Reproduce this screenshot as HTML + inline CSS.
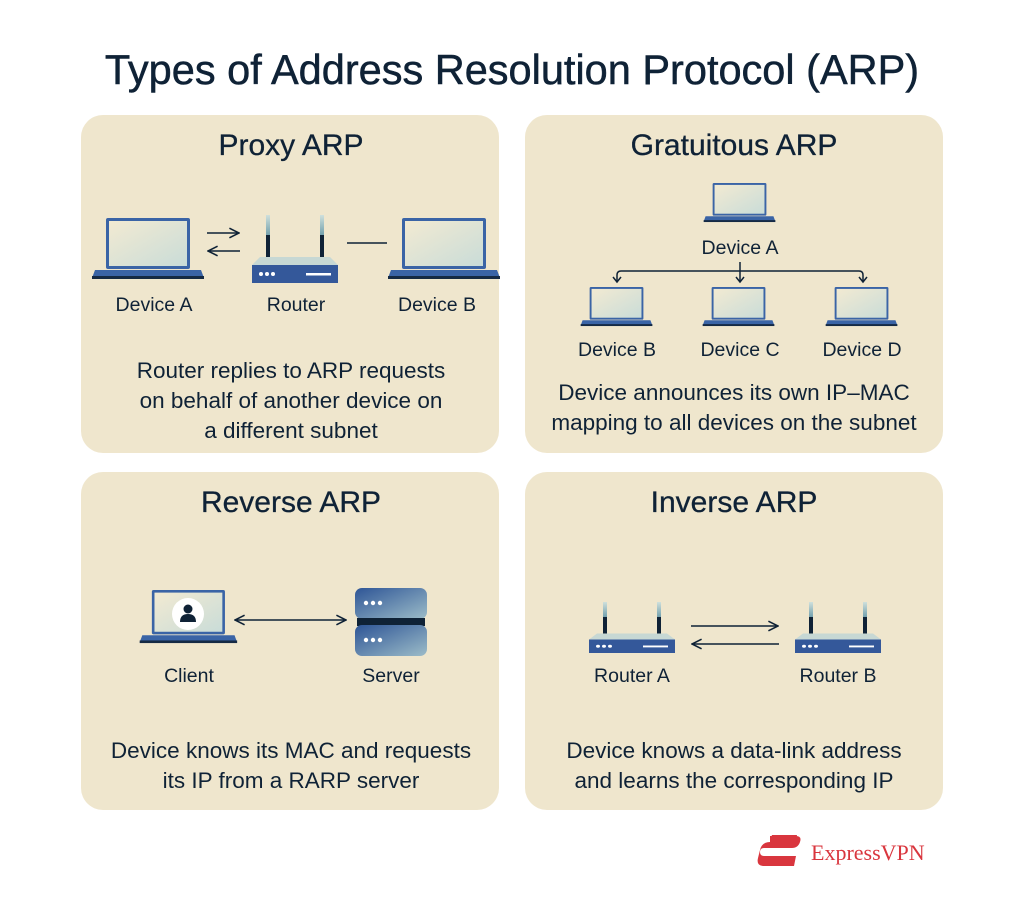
<!DOCTYPE html>
<html><head><meta charset="utf-8"><style>
html,body{margin:0;padding:0;background:#fff}
svg{display:block}
text{font-family:"Liberation Sans",sans-serif;fill:#0f2236}
</style></head><body>
<svg width="1024" height="898" viewBox="0 0 1024 898" xmlns="http://www.w3.org/2000/svg">
<defs>
<linearGradient id="scr" x1="0" y1="0" x2="1" y2="1"><stop offset="0" stop-color="#f2ead2"/><stop offset="1" stop-color="#c9dcd8"/></linearGradient>
<linearGradient id="blu" x1="0" y1="0" x2="1" y2="1"><stop offset="0" stop-color="#2e5596"/><stop offset="1" stop-color="#9cbcc8"/></linearGradient>
<linearGradient id="ant" x1="0" y1="0" x2="0" y2="1"><stop offset="0" stop-color="#cfe0dc"/><stop offset="1" stop-color="#6a9aa8"/></linearGradient>
<g id="lap">
<rect x="1" y="0" width="84" height="51" rx="2" fill="#3a64a6"/>
<rect x="4" y="3" width="78" height="45" fill="url(#scr)"/>
<path d="M-10 52 H96 L99 60 H-13 Z" fill="#3a64a6"/>
<rect x="-13" y="58" width="112" height="3" fill="#152a44"/>
</g>
<g id="rtr">
<rect x="14" y="0" width="4" height="22" fill="url(#ant)"/>
<rect x="14" y="20" width="4" height="22" fill="#0f2236"/>
<rect x="68" y="0" width="4" height="22" fill="url(#ant)"/>
<rect x="68" y="20" width="4" height="22" fill="#0f2236"/>
<path d="M8 42 H78 L86 50 H0 Z" fill="#c7d8d4"/>
<rect x="0" y="50" width="86" height="18" fill="#34589a"/>
<circle cx="9" cy="59" r="2" fill="#fff"/><circle cx="15" cy="59" r="2" fill="#fff"/><circle cx="21" cy="59" r="2" fill="#fff"/>
<rect x="54" y="58" width="25" height="2.5" fill="#fff"/>
</g>
<marker id="ah" viewBox="0 0 10 10" refX="9" refY="5" markerWidth="8" markerHeight="8" orient="auto-start-reverse"><path d="M1 1 L9 5 L1 9" fill="none" stroke="#0f2236" stroke-width="1.3"/></marker>
</defs>

<text x="512" y="84" text-anchor="middle" font-size="41.5" stroke="#0f2236" stroke-width="0.5">Types of Address Resolution Protocol (ARP)</text>

<rect x="81" y="115" width="418" height="338" rx="22" fill="#efe6cd"/>
<rect x="525" y="115" width="418" height="338" rx="22" fill="#efe6cd"/>
<rect x="81" y="472" width="418" height="338" rx="22" fill="#efe6cd"/>
<rect x="525" y="472" width="418" height="338" rx="22" fill="#efe6cd"/>

<g stroke="#0f2236" stroke-width="0.3">
<text x="291" y="155" text-anchor="middle" font-size="30">Proxy ARP</text>
<text x="734" y="155" text-anchor="middle" font-size="30">Gratuitous ARP</text>
<text x="291" y="512" text-anchor="middle" font-size="30">Reverse ARP</text>
<text x="734" y="512" text-anchor="middle" font-size="30">Inverse ARP</text>
</g>

<!-- Proxy -->
<use href="#lap" transform="translate(105,218)"/>
<use href="#lap" transform="translate(401,218)"/>
<use href="#rtr" transform="translate(252,215)"/>
<path d="M207 233 H239" stroke="#0f2236" stroke-width="1.5" marker-end="url(#ah)"/>
<path d="M240 251 H208" stroke="#0f2236" stroke-width="1.5" marker-end="url(#ah)"/>
<path d="M347 243 H387" stroke="#0f2236" stroke-width="1.5"/>
<text x="154" y="311" text-anchor="middle" font-size="19.5">Device A</text>
<text x="296" y="311" text-anchor="middle" font-size="19.5">Router</text>
<text x="437" y="311" text-anchor="middle" font-size="19.5">Device B</text>
<text x="291" y="378" text-anchor="middle" font-size="22.5">Router replies to ARP requests</text>
<text x="291" y="408" text-anchor="middle" font-size="22.5">on behalf of another device on</text>
<text x="291" y="438" text-anchor="middle" font-size="22.5">a different subnet</text>

<!-- Gratuitous -->
<use href="#lap" transform="translate(712,183) scale(0.64)"/>
<use href="#lap" transform="translate(589,287) scale(0.64)"/>
<use href="#lap" transform="translate(711,287) scale(0.64)"/>
<use href="#lap" transform="translate(834,287) scale(0.64)"/>
<text x="740" y="254" text-anchor="middle" font-size="19.5">Device A</text>
<path d="M617 281 V275 Q617 271 621 271 H859 Q863 271 863 275 V281" fill="none" stroke="#0f2236" stroke-width="1.5"/>
<path d="M740 262 V281" stroke="#0f2236" stroke-width="1.5"/>
<path d="M613 277 L617 282 L621 277 M736 277 L740 282 L744 277 M859 277 L863 282 L867 277" fill="none" stroke="#0f2236" stroke-width="1.5"/>
<text x="617" y="356" text-anchor="middle" font-size="19.5">Device B</text>
<text x="740" y="356" text-anchor="middle" font-size="19.5">Device C</text>
<text x="862" y="356" text-anchor="middle" font-size="19.5">Device D</text>
<text x="734" y="400" text-anchor="middle" font-size="22.5">Device announces its own IP–MAC</text>
<text x="734" y="430" text-anchor="middle" font-size="22.5">mapping to all devices on the subnet</text>

<!-- Reverse -->
<use href="#lap" transform="translate(151,590) scale(0.87)"/>
<circle cx="188" cy="614" r="16" fill="#fff"/>
<circle cx="188" cy="609" r="4.5" fill="#0f2236"/>
<path d="M180 622 Q180 614 188 614 Q196 614 196 622 Z" fill="#0f2236"/>
<path d="M235 620 H346" stroke="#0f2236" stroke-width="1.5" marker-start="url(#ah)" marker-end="url(#ah)"/>
<rect x="355" y="588" width="72" height="31" rx="7" fill="url(#blu)"/>
<rect x="357" y="618" width="68" height="8" fill="#0f2236"/>
<rect x="355" y="625" width="72" height="31" rx="7" fill="url(#blu)"/>
<circle cx="366" cy="603" r="2.2" fill="#fff"/><circle cx="373" cy="603" r="2.2" fill="#fff"/><circle cx="380" cy="603" r="2.2" fill="#fff"/>
<circle cx="366" cy="640" r="2.2" fill="#fff"/><circle cx="373" cy="640" r="2.2" fill="#fff"/><circle cx="380" cy="640" r="2.2" fill="#fff"/>
<text x="189" y="682" text-anchor="middle" font-size="19.5">Client</text>
<text x="391" y="682" text-anchor="middle" font-size="19.5">Server</text>
<text x="291" y="758" text-anchor="middle" font-size="22.5">Device knows its MAC and requests</text>
<text x="291" y="788" text-anchor="middle" font-size="22.5">its IP from a RARP server</text>

<!-- Inverse -->
<g transform="translate(589,602) scale(1,0.75)"><use href="#rtr"/></g>
<g transform="translate(795,602) scale(1,0.75)"><use href="#rtr"/></g>
<path d="M691 626 H778" stroke="#0f2236" stroke-width="1.5" marker-end="url(#ah)"/>
<path d="M779 644 H692" stroke="#0f2236" stroke-width="1.5" marker-end="url(#ah)"/>
<text x="632" y="682" text-anchor="middle" font-size="19.5">Router A</text>
<text x="838" y="682" text-anchor="middle" font-size="19.5">Router B</text>
<text x="734" y="758" text-anchor="middle" font-size="22.5">Device knows a data-link address</text>
<text x="734" y="788" text-anchor="middle" font-size="22.5">and learns the corresponding IP</text>

<!-- Logo -->
<path d="M770 836 H796 Q802 836 800 842 Q798 848 792 848 H764 Q760 848 760 852 Q760 856 764 856 H796 L794 866 H764 Q756 866 758 858 L760 850 Q762 842 770 842 Z" fill="#d9363e"/>
<path d="M772 835 H797 L796 840 H770 Z" fill="#d9363e"/>
<text x="811" y="860" font-size="22" style="fill:#d9363e;font-family:'Liberation Serif',serif">ExpressVPN</text>
</svg>
</body></html>
